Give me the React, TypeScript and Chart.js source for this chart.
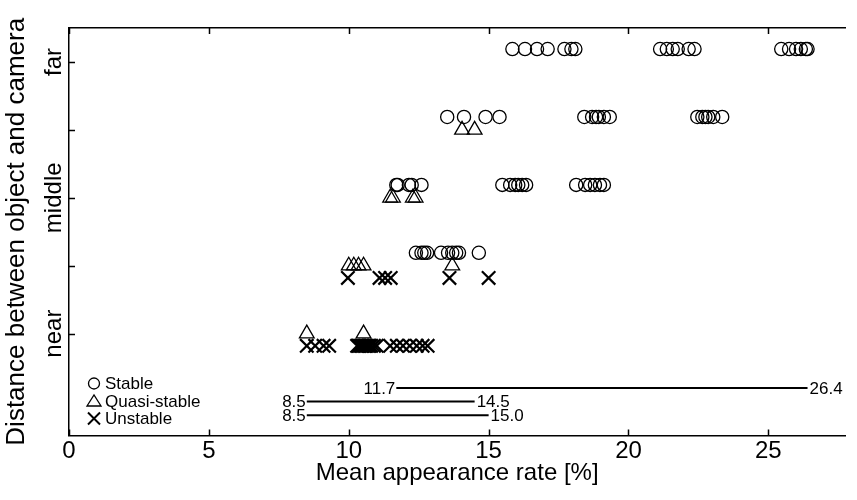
import React, { useEffect, useRef } from "react";
import { Chart, registerables } from "chart.js";

Chart.register(...registerables);

// ---- data (x = mean appearance rate [%]) ----
const levelValues = [1, 2, 3, 4, 5];
const levelLabels = ["near", "", "middle", "", "far"];
const xTickValues = [0, 5, 10, 15, 20, 25];

const stableFar = [15.85, 16.3, 16.73, 17.11, 17.71, 17.96, 18.1, 21.13, 21.37, 21.58, 21.76, 22.15, 22.36, 25.46, 25.74, 25.99, 26.16, 26.34, 26.4];
const stableUpper = [13.52, 14.12, 14.89, 15.39, 18.42, 18.7, 18.84, 18.94, 19.12, 19.33, 22.46, 22.64, 22.75, 22.85, 23.03, 23.35];
const stableMiddle = [11.7, 11.75, 12.15, 12.25, 12.6, 15.49, 15.77, 15.95, 16.06, 16.2, 16.34, 18.13, 18.45, 18.63, 18.8, 18.98, 19.12];
const stableLower = [12.4, 12.6, 12.7, 12.8, 13.3, 13.55, 13.7, 13.84, 13.94, 14.65];

const quasiUpper = [14.05, 14.5];
const quasiMiddle = [11.48, 11.58, 12.29, 12.39];
const quasiLower = [10.0, 10.18, 10.35, 10.53, 13.7];
const quasiNear = [8.5, 10.53];

const unstableLower = [9.97, 11.1, 11.3, 11.5, 13.6, 15.0];
const unstableNear = [8.5, 8.8, 9.1, 9.3, 10.3, 10.35, 10.4, 10.45, 10.5, 10.55, 10.6, 10.65, 10.7, 10.75, 10.8, 10.9, 11.0, 11.48, 11.72, 11.94, 12.18, 12.43, 12.64, 12.82];

const stableRange = [11.7, 26.4];
const quasiRange = [8.5, 14.5];
const unstableRange = [8.5, 15.0];
const rangeRows = [0.2, 0, -0.2];

const legendLabels = ["Stable", "Quasi-stable", "Unstable"];

const FONT = "'Liberation Sans', Arial, sans-serif";
const NARROW = "'Liberation Sans Narrow', 'Arial Narrow', 'Liberation Sans', sans-serif";

function rows(vals: number[], y: number) {
  return vals.map((v) => ({ x: v, y }));
}

const overlayPlugin = {
  id: "overlay",
  afterDraw(chart: any) {
    const { ctx, chartArea } = chart;
    const { left, top, bottom } = chartArea;
    const xs = chart.scales.x;
    const ys = chart.scales.y;
    ctx.save();
    ctx.strokeStyle = "#000";
    ctx.fillStyle = "#000";
    ctx.lineWidth = 1.5;
    // inward ticks
    ctx.beginPath();
    xTickValues.forEach((v) => {
      const px = Math.round(xs.getPixelForValue(v)) + 0.5;
      ctx.moveTo(px, bottom);
      ctx.lineTo(px, bottom - 6);
      ctx.moveTo(px, top);
      ctx.lineTo(px, top + 6);
    });
    levelValues.forEach((v) => {
      const py = Math.round(ys.getPixelForValue(v)) + 0.5;
      ctx.moveTo(left, py);
      ctx.lineTo(left + 6, py);
    });
    ctx.stroke();

    // y category labels (rotated)
    ctx.font = `24px ${FONT}`;
    ctx.textAlign = "center";
    ctx.textBaseline = "alphabetic";
    levelValues.forEach((v, i) => {
      if (!levelLabels[i]) return;
      ctx.save();
      ctx.translate(left - 8, ys.getPixelForValue(v));
      ctx.rotate(-Math.PI / 2);
      ctx.fillText(levelLabels[i], 0, 0);
      ctx.restore();
    });

    // range labels
    ctx.font = `17px ${NARROW}`;
    ctx.textBaseline = "middle";
    const ranges = [stableRange, quasiRange, unstableRange];
    ranges.forEach((r, i) => {
      const py = ys.getPixelForValue(rangeRows[i]) + 1;
      ctx.textAlign = "right";
      ctx.fillText(r[0].toFixed(1), xs.getPixelForValue(r[0]) - 1, py);
      ctx.textAlign = "left";
      ctx.fillText(r[1].toFixed(1), xs.getPixelForValue(r[1]) + 2, py);
    });

    // legend
    const lx = left + 25;
    const ly0 = bottom - 52;
    const dy = 17.5;
    ctx.lineWidth = 1.3;
    ctx.beginPath();
    ctx.arc(lx, ly0, 5.5, 0, Math.PI * 2);
    ctx.stroke();
    ctx.beginPath();
    ctx.moveTo(lx - 7, ly0 + dy + 5);
    ctx.lineTo(lx, ly0 + dy - 6);
    ctx.lineTo(lx + 7, ly0 + dy + 5);
    ctx.closePath();
    ctx.stroke();
    ctx.lineWidth = 2;
    ctx.beginPath();
    const cy = ly0 + 2 * dy;
    ctx.moveTo(lx - 6, cy - 6);
    ctx.lineTo(lx + 6, cy + 6);
    ctx.moveTo(lx + 6, cy - 6);
    ctx.lineTo(lx - 6, cy + 6);
    ctx.stroke();
    ctx.font = `17px ${NARROW}`;
    ctx.textAlign = "left";
    ctx.textBaseline = "middle";
    legendLabels.forEach((t, i) => {
      ctx.fillText(t, lx + 11, ly0 + i * dy + 1);
    });
    ctx.restore();
  },
};

export default function App() {
  const ref = useRef<HTMLCanvasElement>(null);
  useEffect(() => {
    const canvas = ref.current!;
    const sOff = 0.19;
    const uOff = -0.18;
    const circleDs = {
      type: "scatter" as const,
      label: "Stable",
      data: [
        ...rows(stableFar, 5 + sOff),
        ...rows(stableUpper, 4 + sOff),
        ...rows(stableMiddle, 3 + sOff),
        ...rows(stableLower, 2 + sOff),
      ],
      pointStyle: "circle",
      pointRadius: 6.6,
      borderWidth: 1.3,
      borderColor: "#000",
      backgroundColor: "rgba(0,0,0,0)",
    };
    const triDs = {
      type: "scatter" as const,
      label: "Quasi-stable",
      data: [
        ...rows(quasiUpper, 4),
        ...rows(quasiMiddle, 3),
        ...rows(quasiLower, 2),
        ...rows(quasiNear, 1),
      ],
      pointStyle: "triangle",
      pointRadius: 8.5,
      borderWidth: 1.3,
      borderColor: "#000",
      backgroundColor: "rgba(0,0,0,0)",
    };
    const crossDs = {
      type: "scatter" as const,
      label: "Unstable",
      data: [...rows(unstableLower, 2 + uOff), ...rows(unstableNear, 1 + uOff)],
      pointStyle: "crossRot",
      pointRadius: 9.5,
      borderWidth: 2.2,
      borderColor: "#000",
      backgroundColor: "#000",
    };
    const ranges = [stableRange, quasiRange, unstableRange];
    const rangeDs = ranges.map((r, i) => ({
      type: "line" as const,
      label: "range" + i,
      data: [
        { x: r[0], y: rangeRows[i] },
        { x: r[1], y: rangeRows[i] },
      ],
      borderColor: "#000",
      borderWidth: 2,
      pointRadius: 0,
      showLine: true,
      fill: false,
    }));

    const chart = new Chart(canvas, {
      type: "scatter",
      data: { datasets: [circleDs, triDs, crossDs, ...rangeDs] as any },
      options: {
        responsive: false,
        animation: false,
        layout: { padding: 0 },
        plugins: { legend: { display: false }, tooltip: { enabled: false } },
        scales: {
          x: {
            type: "linear",
            position: "bottom",
            min: 0,
            max: 27.75,
            ticks: {
              stepSize: 5,
              includeBounds: false,
              maxRotation: 0,
              padding: 1,
              color: "#000",
              font: { family: FONT, size: 24 },
            },
            grid: { display: false, drawTicks: false },
            border: { display: true, color: "#000", width: 1.5 },
            title: {
              display: true,
              text: "Mean appearance rate [%]",
              color: "#000",
              font: { family: FONT, size: 24 },
              padding: { top: 0, bottom: 12 },
            },
            afterFit: (s: any) => {
              s.height = 64.5;
            },
          },
          xTop: {
            type: "linear",
            position: "top",
            min: 0,
            max: 27.75,
            ticks: { display: false },
            grid: { display: false, drawTicks: false },
            border: { display: true, color: "#000", width: 1.5 },
            afterFit: (s: any) => {
              s.height = 28;
            },
          },
          y: {
            type: "linear",
            position: "left",
            min: -0.5,
            max: 5.5,
            ticks: { display: false },
            grid: { display: false, drawTicks: false },
            border: { display: true, color: "#000", width: 1.5 },
            title: {
              display: true,
              text: "Distance between object and camera",
              color: "#000",
              font: { family: FONT, size: 26 },
              padding: { top: 1, bottom: 0 },
            },
            afterFit: (s: any) => {
              s.width = 69;
            },
          },
        },
      },
      plugins: [overlayPlugin],
    });
    return () => chart.destroy();
  }, []);

  return (
    <div style={{ position: "absolute", left: 0, top: 0, width: 857, height: 500, background: "#fff" }}>
      <canvas ref={ref} width={857} height={500} />
    </div>
  );
}
